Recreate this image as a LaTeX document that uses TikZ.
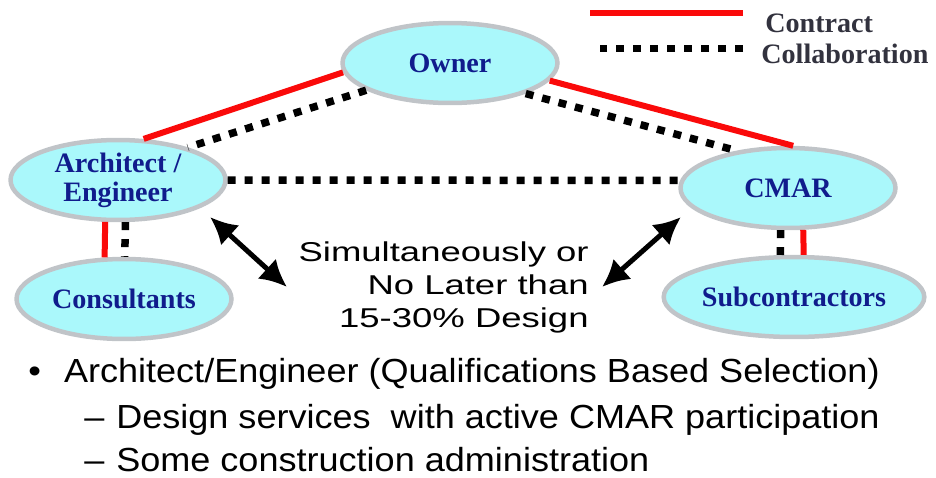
\documentclass[tikz,border=0pt]{standalone}
\usepackage{fontspec}
\setmainfont{Liberation Serif}
\setsansfont{Liberation Sans}
\usepackage{xcolor}
\usepackage{tikz}
\usetikzlibrary{arrows.meta, shapes.geometric}

\definecolor{partyfill}{RGB}{170,248,251}
\definecolor{partyring}{RGB}{192,196,200}
\definecolor{partytext}{RGB}{16,28,140}
\definecolor{contractred}{RGB}{250,10,10}
\definecolor{legendtext}{RGB}{50,50,62}
\newcommand{\widen}[2][1.08]{\scalebox{#1}[1]{#2}}

\begin{document}
\begin{tikzpicture}[x=0.02cm, y=-0.02cm,
    >={Latex[length=0.54cm, width=0.54cm]},
    party/.style={ellipse, draw=partyring, line width=0.09cm, fill=partyfill,
        minimum width=4.3cm, minimum height=1.6cm, inner sep=0pt, align=center,
        text=partytext, font=\fontsize{16}{16.5}\selectfont\bfseries},
    contract/.style={draw=contractred, line width=0.12cm},
    collab/.style={draw=black, line width=0.15cm, dash pattern=on 0.16cm off 0.18cm},
    legendlabel/.style={anchor=base west, inner sep=0pt, text=legendtext,
        font=\fontsize{16}{18}\selectfont\bfseries},
    timingarrow/.style={<->, line width=0.1cm},
    bulletline/.style={anchor=base west, inner sep=0pt,
        font=\sffamily\fontsize{19}{22}\selectfont}]
    \useasboundingbox (0,0) rectangle (936,477);
    % Parteien
    \node[party] (own) at (450,63) {Owner};
    \node[party] (arch) at (118,180) {Architect /\\Engineer};
    \node[party] (cmar) at (788,188) {CMAR};
    \node[party] (cons) at (124,299) {Consultants};
    \node[party] (sub) at (794,297) {Subcontractors};

    % Vertraege und Zusammenarbeit
    \draw[contract] (own.185) -- (arch.58);
    \draw[collab] (own.198) -- (arch.25);
    \draw[contract] (own.350) -- (cmar.83);
    \draw[collab] (own.338) -- (cmar.144);
    \draw[collab] (arch.east) -- (cmar.176);
    \draw[contract] (arch.253) -- (cons.115);
    \draw[collab] (arch.280) -- (cons.89);
    \draw[contract] (cmar.290) -- (sub.77);
    \draw[collab] (cmar.260) -- (sub.108);

    % Legende
    \node[legendlabel] (lgcon) at (765,32) {Contract};
    \node[legendlabel] (lgcol) at (761,63) {Collaboration};
    \draw[contract] (lgcon.west) ++(-22,-10) -- ++(-153,0);
    \draw[collab] (lgcol.west) ++(-18,-5) -- ++(-143,0);

    % Zeitpunkt
    \node[anchor=base east, align=right, inner sep=0pt,
        font=\sffamily\fontsize{15.5}{18.5}\selectfont] (timing) at (589,327)
        {\widen[1.34]{Simultaneously or}\\\widen[1.34]{No Later than}\\\widen[1.34]{15-30\% Design}};
    \coordinate (la1) at (210,217);
    \coordinate (la2) at (287,287);
    \coordinate (ra1) at (602,287);
    \coordinate (ra2) at (681,217);
    \draw[timingarrow] (la1) -- (la2);
    \draw[timingarrow] (ra1) -- (ra2);

    % Aufzaehlung
    \node[bulletline] (item1) at (28,382)
        {\widen{\textbullet\hspace{0.64em}Architect/Engineer (Qualifications Based Selection)}};
    \node[bulletline] (item2) at (84,428)
        {\widen{--\hspace{0.33em}Design services\ \ with active CMAR participation}};
    \node[bulletline] (item3) at (84,471)
        {\widen{--\hspace{0.33em}Some construction administration}};
\end{tikzpicture}
\end{document}
